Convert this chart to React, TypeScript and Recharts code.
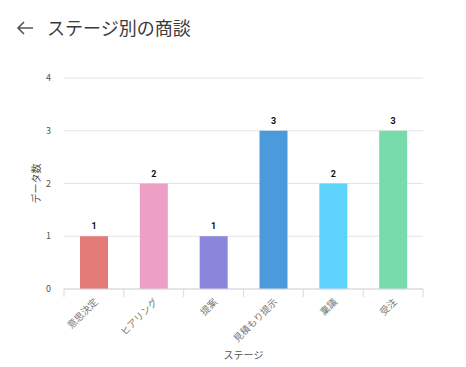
import React from 'react';
import { BarChart, Bar, XAxis, YAxis, CartesianGrid, Cell, LabelList } from 'recharts';

const stages = ['意思決定', 'ヒアリング', '提案', '見積もり提示', '稟議', '受注'];
const counts = [1, 2, 1, 3, 2, 3];
const colors = ['#E27A77', '#EE9FC5', '#8986DB', '#4A9ADC', '#5DD3FB', '#78DBAC'];
const yTicks = [0, 1, 2, 3, 4];

const data = stages.map((s, i) => ({ stage: s, count: counts[i] }));

const FONT = '"Noto Sans CJK JP", "Noto Sans", sans-serif';

const XTick = (props: any) => {
  const { x, y, payload, index, width, visibleTicksCount } = props;
  const half = width / visibleTicksCount / 2;
  const isLast = index === visibleTicksCount - 1;
  return (
    <g>
      <line x1={x - half} x2={x - half} y1={y} y2={y + 8} stroke="#d9d9de" />
      {isLast && <line x1={x + half} x2={x + half} y1={y} y2={y + 8} stroke="#d9d9de" />}
      <g transform={`translate(${x + 2},${y + 11})`}>
        <text x={0} y={0} dy={3.5} textAnchor="end" transform="rotate(-45)" fontSize={9.5} fill="#777" fontFamily={FONT}>
          {payload.value}
        </text>
      </g>
    </g>
  );
};

const YLabel = (props: any) => {
  const { viewBox } = props;
  const cx = viewBox.x + 35;
  const cy = viewBox.y + viewBox.height / 2;
  return (
    <text x={cx} y={cy} transform={`rotate(-90 ${cx} ${cy})`} textAnchor="middle" dominantBaseline="central" fontSize={10} fill="#555" fontFamily={FONT}>
      データ数
    </text>
  );
};

export default function App() {
  return (
    <div style={{ position: 'absolute', left: 0, top: 0, width: 466, height: 367, background: '#fff', fontFamily: FONT }}>
      <svg style={{ position: 'absolute', left: 16, top: 20 }} width={18} height={16} viewBox="0 0 18 16">
        <path d="M17 8 H2 M8 2 L2 8 L8 14" stroke="#555" strokeWidth={1.6} fill="none" />
      </svg>
      <div style={{ position: 'absolute', left: 47, top: 14, fontSize: 18, color: '#3a3a3a', lineHeight: '26px', whiteSpace: 'nowrap' }}>
        ステージ別の商談
      </div>
      <div style={{ position: 'absolute', left: 0, top: 0 }}>
        <BarChart width={466} height={367} data={data} margin={{ top: 78, right: 43, bottom: 5, left: 0 }}>
          <CartesianGrid vertical={false} stroke="#e4e4e4" />
          <XAxis
            dataKey="stage"
            interval={0}
            tick={<XTick />}
            tickLine={false}
            tickSize={0}
            tickMargin={0}
            axisLine={{ stroke: '#d9d9de' }}
            height={73}
            label={{ value: 'ステージ', position: 'insideBottom', offset: 3, fontSize: 10, fontFamily: FONT, fill: '#555', stroke: 'none' }}
          />
          <YAxis
            domain={[0, 4]}
            ticks={yTicks}
            width={64}
            axisLine={false}
            tickLine={false}
            tickMargin={7}
            tick={{ fontSize: 9, fill: '#555', fontFamily: FONT }}
            label={<YLabel />}
          />
          <Bar dataKey="count" barSize={28} isAnimationActive={false}>
            {data.map((d, i) => (
              <Cell key={d.stage} fill={colors[i]} />
            ))}
            <LabelList dataKey="count" position="top" offset={7} fontSize={9} fontWeight="bold" fill="#111" fontFamily="Roboto, sans-serif" />
          </Bar>
        </BarChart>
      </div>
    </div>
  );
}
